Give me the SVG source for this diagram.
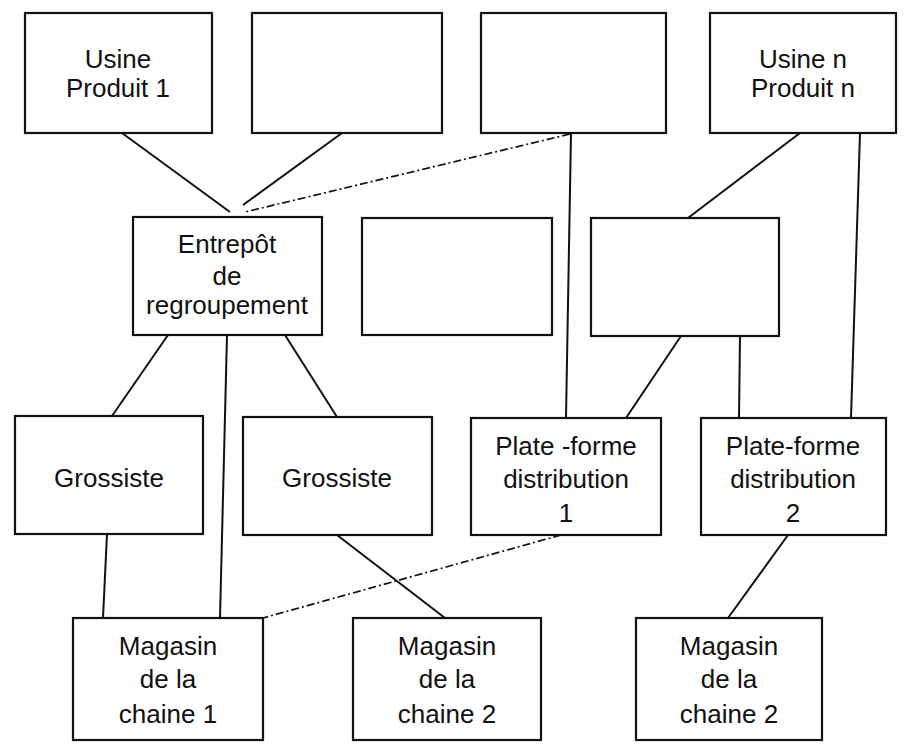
<svg xmlns="http://www.w3.org/2000/svg" width="913" height="747" viewBox="0 0 913 747">
<style>
.box{fill:#fff;stroke:#111;stroke-width:2.2}
.t{font-family:"Liberation Sans",Arial,sans-serif;font-size:26px;fill:#111;text-anchor:middle}
.c{stroke:#111;stroke-width:2;fill:none}
.d{stroke:#111;stroke-width:1.7;fill:none;stroke-dasharray:8 3 2 3}
</style>
<rect width="913" height="747" fill="#fff"/>
<g id="connectors">
<line class="c" x1="122" y1="133" x2="230" y2="212"/>
<line class="c" x1="342" y1="133" x2="243" y2="205"/>
<line class="d" x1="570" y1="134" x2="245" y2="212"/>
<line class="c" x1="571" y1="133" x2="566" y2="418"/>
<line class="c" x1="800" y1="133" x2="688" y2="218"/>
<line class="c" x1="860" y1="133" x2="851" y2="418"/>
<line class="c" x1="168" y1="335" x2="112" y2="416"/>
<line class="c" x1="227" y1="335" x2="220" y2="618"/>
<line class="c" x1="285" y1="335" x2="337" y2="417"/>
<line class="c" x1="681" y1="336" x2="626" y2="418"/>
<line class="c" x1="740" y1="336" x2="739" y2="418"/>
<line class="c" x1="107" y1="534" x2="103" y2="618"/>
<line class="c" x1="337" y1="535" x2="445" y2="618"/>
<line class="d" x1="561" y1="535" x2="263" y2="618"/>
<line class="c" x1="788" y1="535" x2="728" y2="618"/>
</g>
<g id="usine1"><rect class="box" x="25" y="13" width="187" height="120"/><text class="t" x="118" y="68">Usine</text><text class="t" x="118" y="97">Produit 1</text></g>
<g id="usine2"><rect class="box" x="252" y="13" width="190" height="120"/></g>
<g id="usine3"><rect class="box" x="481" y="13" width="185" height="120"/></g>
<g id="usineN"><rect class="box" x="710" y="13" width="186" height="120"/><text class="t" x="803" y="68">Usine n</text><text class="t" x="803" y="97">Produit n</text></g>
<g id="entrepot"><rect class="box" x="133" y="217" width="189" height="118"/><text class="t" x="227" y="253">Entrepôt</text><text class="t" x="227" y="285">de</text><text class="t" x="227" y="314">regroupement</text></g>
<g id="box5"><rect class="box" x="362" y="218" width="190" height="117"/></g>
<g id="box6"><rect class="box" x="591" y="218" width="188" height="118"/></g>
<g id="grossiste1"><rect class="box" x="15" y="416" width="188" height="118"/><text class="t" x="109" y="487">Grossiste</text></g>
<g id="grossiste2"><rect class="box" x="243" y="417" width="189" height="118"/><text class="t" x="337" y="487">Grossiste</text></g>
<g id="pf1"><rect class="box" x="471" y="418" width="190" height="117"/><text class="t" x="566" y="455">Plate -forme</text><text class="t" x="566" y="488">distribution</text><text class="t" x="566" y="522">1</text></g>
<g id="pf2"><rect class="box" x="701" y="418" width="185" height="117"/><text class="t" x="793" y="455">Plate-forme</text><text class="t" x="793" y="488">distribution</text><text class="t" x="793" y="522">2</text></g>
<g id="magasin1"><rect class="box" x="73" y="618" width="190" height="122"/><text class="t" x="168" y="655">Magasin</text><text class="t" x="168" y="688">de la</text><text class="t" x="168" y="723">chaine 1</text></g>
<g id="magasin2"><rect class="box" x="353" y="618" width="188" height="122"/><text class="t" x="447" y="655">Magasin</text><text class="t" x="447" y="688">de la</text><text class="t" x="447" y="723">chaine 2</text></g>
<g id="magasin3"><rect class="box" x="636" y="618" width="186" height="122"/><text class="t" x="729" y="655">Magasin</text><text class="t" x="729" y="688">de la</text><text class="t" x="729" y="723">chaine 2</text></g>
</svg>
